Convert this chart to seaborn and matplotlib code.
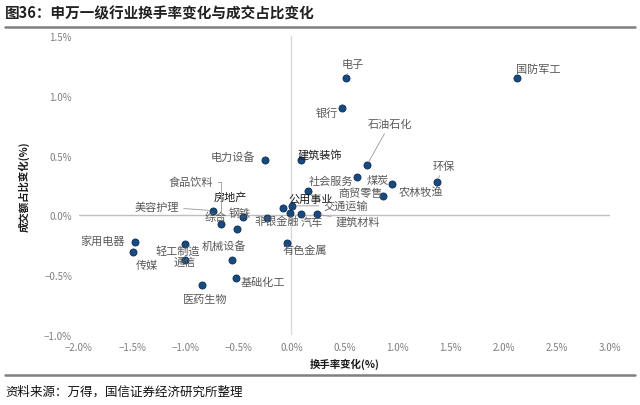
import numpy as np
import pandas as pd
import seaborn as sns
import matplotlib.pyplot as plt
from matplotlib.ticker import FuncFormatter

sns.set_style("white")
plt.rcParams['font.family'] = ['Noto Sans CJK SC', 'DejaVu Sans']
plt.rcParams['axes.unicode_minus'] = False

# data: turnover change (%) vs. turnover share change (%)
industries = ["电子", "国防军工", "银行", "石油石化", "电力设备", "建筑装饰", "环保",
              "煤炭", "农林牧渔", "商贸零售", "社会服务", "公用事业", "交通运输", "汽车",
              "建筑材料", "非银金融", "钢铁", "房地产", "综合", "食品饮料", "美容护理",
              "家用电器", "传媒", "轻工制造", "通信", "机械设备", "基础化工", "医药生物",
              "有色金属"]
turnover_chg = [0.51, 2.12, 0.48, 0.71, -0.25, 0.09, 1.37,
                0.62, 0.95, 0.86, 0.16, -0.08, 0.01, 0.09,
                0.24, -0.01, -0.23, -0.46, -0.51, -0.66, -0.74,
                -1.47, -1.49, -1.00, -1.00, -0.56, -0.52, -0.84,
                -0.04]
share_chg = [1.15, 1.15, 0.90, 0.42, 0.46, 0.46, 0.28,
             0.32, 0.26, 0.16, 0.20, 0.06, 0.08, 0.01,
             0.01, 0.02, -0.02, -0.01, -0.11, -0.07, 0.04,
             -0.22, -0.31, -0.24, -0.37, -0.37, -0.52, -0.58,
             -0.23]
x_ticks = [-2.0, -1.5, -1.0, -0.5, 0.0, 0.5, 1.0, 1.5, 2.0, 2.5, 3.0]
y_ticks = [-1.0, -0.5, 0.0, 0.5, 1.0, 1.5]

df = pd.DataFrame({"name": industries, "x": turnover_chg, "y": share_chg})

# label offsets in pixels (dx, dy) and whether a leader line is drawn
label_off = {
    "电子": (7, 14, True), "国防军工": (22, 9, False), "银行": (-16, -5, False),
    "石油石化": (23, 41, True), "电力设备": (-32, 4, False), "建筑装饰": (19, 6, False),
    "环保": (7, 16, True), "煤炭": (21, -3, False), "农林牧渔": (29, -7, False),
    "商贸零售": (-22, 4, False), "社会服务": (23, 11, False), "公用事业": (28, 9, False),
    "交通运输": (53, 0, True), "汽车": (11, -8, False), "建筑材料": (41, -7, True),
    "非银金融": (-14, -8, False), "钢铁": (-27, 5, True), "房地产": (-12, 20, False),
    "综合": (-22, 12, False), "食品饮料": (-30, 42, True), "美容护理": (-56, 4, True),
    "家用电器": (-33, 1, False), "传媒": (14, -12, False), "轻工制造": (-7, -6, False),
    "通信": (-1, -2, False), "机械设备": (-8, 14, False), "基础化工": (27, -4, False),
    "医药生物": (3, -14, False), "有色金属": (18, -7, False),
}
dark_labels = {"建筑装饰", "公用事业", "房地产"}

fig = plt.figure(figsize=(6.4, 4.06), dpi=100)
ax = fig.add_axes([79 / 640, 70 / 406, 531 / 640, 299 / 406])

ax.axhline(0, color="#bfbfbf", lw=1, zorder=1)
ax.axvline(0, color="#d9d9d9", lw=1, zorder=1)

sns.scatterplot(data=df, x="x", y="y", ax=ax, color="#184a7e", edgecolor="#0c2f57",
                linewidth=0.6, s=26, zorder=3, legend=False)

for name, xv, yv in zip(industries, turnover_chg, share_chg):
    dx, dy, lead = label_off[name]
    col = "#1a1a1a" if name in dark_labels else "#595959"
    kw = dict(textcoords="offset pixels", xytext=(dx, dy), ha="center", va="center",
              fontsize=8, color=col, zorder=4)
    if lead:
        cs = "angle,angleA=0,angleB=90,rad=0" if name == "食品饮料" else "arc3"
        kw["arrowprops"] = dict(arrowstyle="-", color="#a6a6a6", lw=0.7,
                                shrinkA=1, shrinkB=3, connectionstyle=cs)
    ax.annotate(name, xy=(xv, yv), **kw)

ax.set_xlim(-2.0, 3.0)
ax.set_ylim(-1.0, 1.5)
ax.set_xticks(x_ticks)
ax.set_yticks(y_ticks)
fmt = FuncFormatter(lambda v, p: f"{v:.1f}%".replace("-", "−"))
ax.xaxis.set_major_formatter(fmt)
ax.yaxis.set_major_formatter(fmt)
ax.tick_params(axis="both", length=0, labelsize=7, colors="#7f7f7f", pad=5)
for s in ax.spines.values():
    s.set_visible(False)
ax.set_xlabel("换手率变化(%)", fontsize=7.5, fontweight="bold", color="#1a1a1a", labelpad=4)
ax.set_ylabel("成交额占比变化(%)", fontsize=7.5, fontweight="bold", color="#1a1a1a", labelpad=10)

# header / footer
fig.text(5 / 640, 1 - 13 / 406, "图36：申万一级行业换手率变化与成交占比变化", fontsize=10.5,
         fontweight="bold", color="#222222", va="center", ha="left")
fig.add_artist(plt.Line2D([5 / 640, 635 / 640], [1 - 28 / 406] * 2, color="#808080", lw=1.8))
fig.add_artist(plt.Line2D([5 / 640, 635 / 640], [1 - 376 / 406] * 2, color="#808080", lw=1.8))
fig.text(5 / 640, 1 - 392 / 406, "资料来源：万得，国信证券经济研究所整理", fontsize=9,
         color="#111111", va="center", ha="left")

fig.savefig("out.png", dpi=100)
